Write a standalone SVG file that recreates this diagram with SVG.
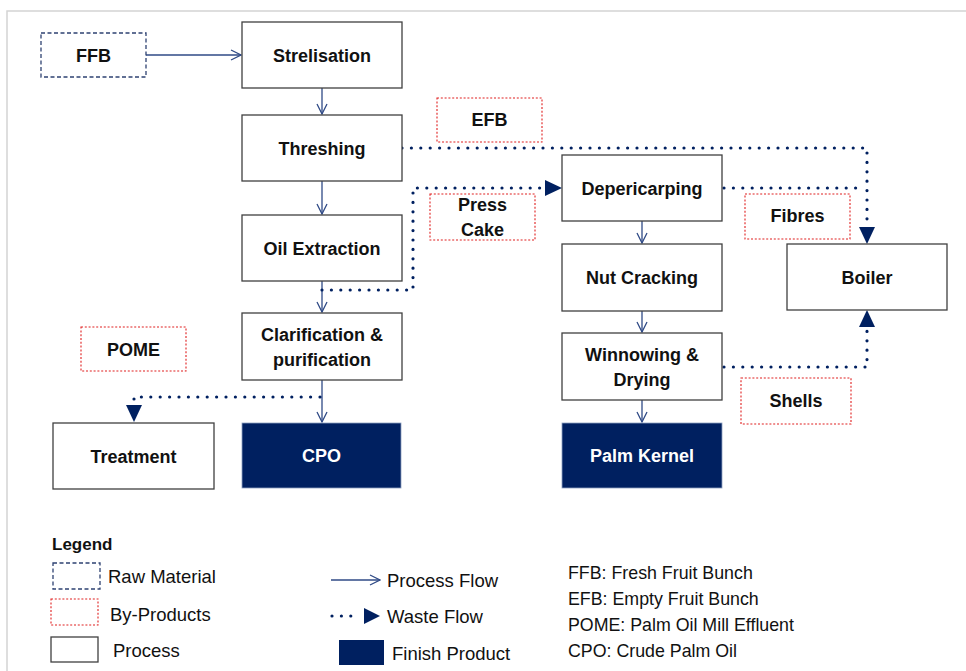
<svg xmlns="http://www.w3.org/2000/svg" width="966" height="671" viewBox="0 0 966 671">
<defs>
<style>
.box{fill:#fff;stroke:#404040;stroke-width:1.3}
.prod{fill:#002060;stroke:#8ea0c0;stroke-width:0.8}
.raw{fill:#fff;stroke:#2e4272;stroke-width:1.3;stroke-dasharray:4 2.5}
.by{fill:#fff;stroke:#e02020;stroke-width:1.1;stroke-dasharray:2 1.8}
.lbl{font-family:"Liberation Sans",Arial,sans-serif;font-weight:bold;font-size:18px;fill:#111;text-anchor:middle}
.lblw{font-family:"Liberation Sans",Arial,sans-serif;font-weight:bold;font-size:18px;fill:#fff;text-anchor:middle}
.leg{font-family:"Liberation Sans",Arial,sans-serif;font-size:18.5px;fill:#111}
.abbr{font-family:"Liberation Sans",Arial,sans-serif;font-size:17.8px;fill:#111}
.pf{fill:none;stroke:#2f4a86;stroke-width:1.3}
.wf{fill:none;stroke:#002060;stroke-width:3.2;stroke-linecap:round;stroke-dasharray:0 9.4}
</style>
<marker id="open" viewBox="0 0 12 12" refX="11" refY="6" markerWidth="12" markerHeight="12" markerUnits="userSpaceOnUse" orient="auto">
<path d="M1,1 L11,6 L1,11" fill="none" stroke="#2f4a86" stroke-width="1.3"/>
</marker>
</defs>
<rect width="966" height="671" fill="#fff"/>
<path d="M7,671 L7,11 L966,11" fill="none" stroke="#d4d4d4" stroke-width="1.5"/>

<g id="connectors">
<line class="pf" x1="146" y1="55" x2="241" y2="55" marker-end="url(#open)"/>
<line class="pf" x1="322" y1="88" x2="322" y2="114" marker-end="url(#open)"/>
<line class="pf" x1="322" y1="181" x2="322" y2="214" marker-end="url(#open)"/>
<line class="pf" x1="322" y1="281" x2="322" y2="312" marker-end="url(#open)"/>
<line class="pf" x1="322" y1="380" x2="322" y2="422" marker-end="url(#open)"/>
<line class="pf" x1="642" y1="221" x2="642" y2="243" marker-end="url(#open)"/>
<line class="pf" x1="642" y1="311" x2="642" y2="332" marker-end="url(#open)"/>
<line class="pf" x1="642" y1="400" x2="642" y2="422" marker-end="url(#open)"/>
<path class="wf" d="M402,148 L867,148 L867,228"/>
<path d="M859,227 L875,227 L867,244 Z" fill="#002060"/>
<path class="wf" d="M322,290 L413,290 L413,188 L546,188"/>
<path d="M545,180 L562,188 L545,196 Z" fill="#002060"/>
<path class="wf" d="M724,188 L860,188"/>
<path class="wf" d="M724,367 L867,367 L867,326"/>
<path d="M859,327 L875,327 L867,310 Z" fill="#002060"/>
<path class="wf" d="M320,397 L134,397 L134,406"/>
<path d="M126,405 L142,405 L134,422 Z" fill="#002060"/>
</g>

<g id="ffb"><rect class="raw" x="41" y="33" width="105" height="44"/><text class="lbl" x="93.5" y="61.5">FFB</text></g>
<g id="strelisation"><rect class="box" x="242" y="22" width="160" height="66"/><text class="lbl" x="322" y="61.5">Strelisation</text></g>
<g id="threshing"><rect class="box" x="242" y="115" width="160" height="66"/><text class="lbl" x="322" y="154.5">Threshing</text></g>
<g id="oil-extraction"><rect class="box" x="242" y="215" width="160" height="66"/><text class="lbl" x="322" y="254.5">Oil Extraction</text></g>
<g id="clarification"><rect class="box" x="242" y="313" width="160" height="67"/><text class="lbl" x="322" y="341">Clarification &amp;</text><text class="lbl" x="322" y="366">purification</text></g>
<g id="treatment"><rect class="box" x="53" y="423" width="161" height="66"/><text class="lbl" x="133.5" y="462.5">Treatment</text></g>
<g id="cpo"><rect class="prod" x="242" y="423" width="159" height="65"/><text class="lblw" x="321.5" y="462">CPO</text></g>
<g id="efb"><rect class="by" x="437" y="98" width="105" height="44"/><text class="lbl" x="489.5" y="126">EFB</text></g>
<g id="press-cake"><rect class="by" x="430" y="194" width="105" height="46"/><text class="lbl" x="482.5" y="211">Press</text><text class="lbl" x="482.5" y="236">Cake</text></g>
<g id="pome"><rect class="by" x="81" y="327" width="105" height="44"/><text class="lbl" x="133.5" y="355.5">POME</text></g>
<g id="depericarping"><rect class="box" x="562" y="155" width="160" height="66"/><text class="lbl" x="642" y="195">Depericarping</text></g>
<g id="nut-cracking"><rect class="box" x="562" y="244" width="160" height="67"/><text class="lbl" x="642" y="284">Nut Cracking</text></g>
<g id="winnowing"><rect class="box" x="562" y="333" width="160" height="67"/><text class="lbl" x="642" y="361">Winnowing &amp;</text><text class="lbl" x="642" y="386">Drying</text></g>
<g id="palm-kernel"><rect class="prod" x="562" y="423" width="160" height="65"/><text class="lblw" x="642" y="462">Palm Kernel</text></g>
<g id="fibres"><rect class="by" x="745" y="194" width="105" height="45"/><text class="lbl" x="797.5" y="222">Fibres</text></g>
<g id="boiler"><rect class="box" x="787" y="244" width="160" height="66"/><text class="lbl" x="867" y="283.5">Boiler</text></g>
<g id="shells"><rect class="by" x="741" y="378" width="110" height="46"/><text class="lbl" x="796" y="407">Shells</text></g>

<g id="legend">
<text x="52" y="550" style="font-family:'Liberation Sans',Arial,sans-serif;font-weight:bold;font-size:17px;fill:#111">Legend</text>
<rect class="raw" x="53" y="563" width="47" height="26"/><text class="leg" x="108" y="583">Raw Material</text>
<rect class="by" x="51" y="599" width="47" height="26"/><text class="leg" x="110" y="621">By-Products</text>
<rect class="box" x="51" y="637" width="47" height="25"/><text class="leg" x="113" y="657">Process</text>
<line class="pf" x1="331" y1="580" x2="380" y2="580" marker-end="url(#open)"/><text class="leg" x="387" y="587">Process Flow</text>
<path class="wf" d="M332,616 L356,616"/><path d="M364,608 L380,616 L364,624 Z" fill="#002060"/><text class="leg" x="387" y="623">Waste Flow</text>
<rect x="339" y="640" width="45" height="25" fill="#002060"/><text class="leg" x="392" y="660">Finish Product</text>
<text class="abbr" x="568" y="579">FFB: Fresh Fruit Bunch</text>
<text class="abbr" x="568" y="605">EFB: Empty Fruit Bunch</text>
<text class="abbr" x="568" y="631">POME: Palm Oil Mill Effluent</text>
<text class="abbr" x="568" y="657">CPO: Crude Palm Oil</text>
</g>
</svg>
